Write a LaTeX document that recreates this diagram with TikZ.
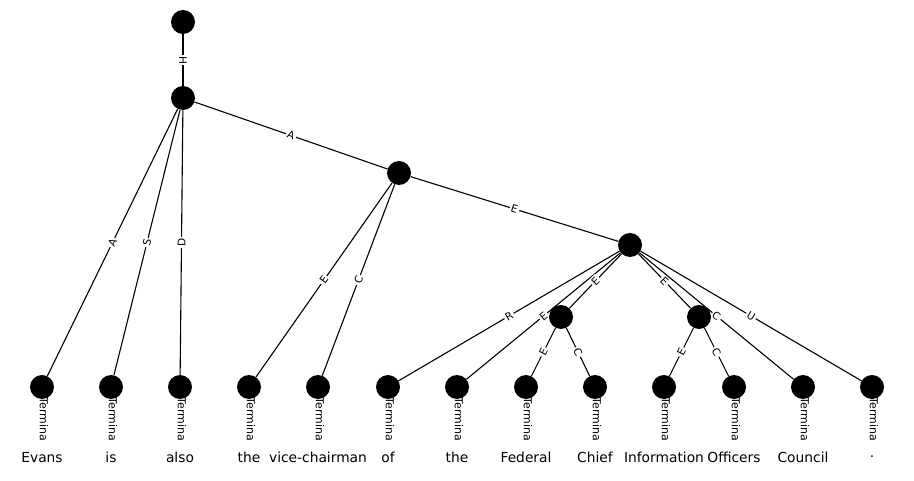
\documentclass[tikz,border=0pt]{standalone}
\usepackage{fontspec}
\setmainfont{DejaVu Sans}
\usetikzlibrary{positioning,backgrounds}

\begin{document}
\begin{tikzpicture}[x=1pt,y=-1pt,
	dot/.style={circle, fill=black, minimum size=24pt, inner sep=0pt},
	link/.style={draw, line width=1.1pt},
	elab/.style={fill=white, inner sep=1.5pt, sloped, font=\fontsize{10.5}{11}\selectfont},
	term/.style={rotate=-90, anchor=west, inner sep=0pt, font=\fontsize{11}{12}\selectfont},
	word/.style={anchor=base, inner sep=0pt, font=\fontsize{13.8}{15}\selectfont}]
			\useasboundingbox (0,0) rectangle (914,481);
			% inner nodes
			\node[dot] at(183,22) (root) {};
			\node[dot] at(183,98) (n1) {};
			\node[dot] at(399,173) (n2) {};
			\node[dot] at(630,245) (n3) {};
			\node[dot] at(561,317) (n4) {};
			\node[dot] at(699,317) (n5) {};
			% leaves
			\node[dot] at(42,387) (evans) {};
			\node[dot] at(111,387) (is) {};
			\node[dot] at(180,387) (also) {};
			\node[dot] at(249,387) (the1) {};
			\node[dot] at(318,387) (vice) {};
			\node[dot] at(388,387) (of) {};
			\node[dot] at(457,387) (the2) {};
			\node[dot] at(526,387) (federal) {};
			\node[dot] at(595,387) (chief) {};
			\node[dot] at(664,387) (info) {};
			\node[dot] at(734,387) (officers) {};
			\node[dot] at(803,387) (council) {};
			\node[dot] at(872,387) (stop) {};
			
			\foreach \leaf in {evans,is,also,the1,vice,of,the2,federal,chief,info,officers,council,stop}
			\node[term] at([xshift=2pt,yshift=2pt]\leaf.south) {Termina};
			
			\node[word] at(42,462) (tEvans) {Evans};
			\node[word] at(111,462) (tIs) {is};
			\node[word] at(180,462) (tAlso) {also};
			\node[word] at(249,462) (tThe1) {the};
			\node[word] at(318,462) (tVice) {vice-chairman};
			\node[word] at(388,462) (tOf) {of};
			\node[word] at(457,462) (tThe2) {the};
			\node[word] at(526,462) (tFederal) {Federal};
			\node[word] at(595,462) (tChief) {Chief};
			\node[word] at(664,462) (tInfo) {Information};
			\node[word] at(734,462) (tOfficers) {Officers};
			\node[word] at(803,462) (tCouncil) {Council};
			\node[word] at(872,457) (tStop) {.};
			
			\begin{pgfonlayer}{background}
			\path[link] (root) -- node[elab] {H} (n1);
			\path[link] (n1) -- node[elab] {A} (evans);
			\path[link] (n1) -- node[elab] {S} (is);
			\path[link] (n1) -- node[elab] {D} (also);
			\path[link] (n1) -- node[elab] {A} (n2);
			\path[link] (n2) -- node[elab] {E} (the1);
			\path[link] (n2) -- node[elab] {C} (vice);
			\path[link] (n2) -- node[elab] {E} (n3);
			\path[link] (n3) -- node[elab] {R} (of);
			\path[link] (n3) -- node[elab] {E} (the2);
			\path[link] (n3) -- node[elab] {E} (n4);
			\path[link] (n3) -- node[elab] {E} (n5);
			\path[link] (n3) -- node[elab] {C} (council);
			\path[link] (n3) -- node[elab] {U} (stop);
			\path[link] (n4) -- node[elab] {E} (federal);
			\path[link] (n4) -- node[elab] {C} (chief);
			\path[link] (n5) -- node[elab] {E} (info);
			\path[link] (n5) -- node[elab] {C} (officers);
			\end{pgfonlayer}
			\end{tikzpicture}
\end{document}
